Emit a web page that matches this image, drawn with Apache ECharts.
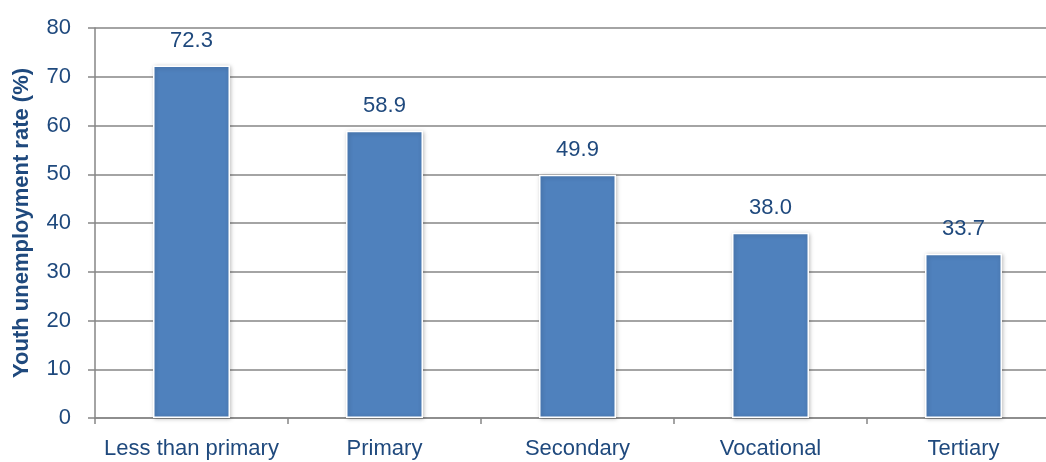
<!DOCTYPE html>
<html><head><meta charset="utf-8">
<script src="https://cdn.jsdelivr.net/npm/echarts@6/dist/echarts.min.js"></script>
<style>html,body{margin:0;padding:0;background:#fff}#c{width:1046px;height:462px}</style>
</head><body><div id="c"></div>
<script>
const categories = ["Less than primary", "Primary", "Secondary", "Vocational", "Tertiary"];
const values = [72.3, 58.9, 49.9, 38.0, 33.7];
const yAxisTitle = "Youth unemployment rate (%)";
const FONT = "'Liberation Sans Narrow', 'Arial Narrow', 'Liberation Sans', Arial, sans-serif";
const TXT = "#1F497D";
const chart = echarts.init(document.getElementById('c'));
chart.setOption({
  animation: false,
  grid: { left: 95, top: 28, right: -14, bottom: 44, containLabel: false, outerBoundsMode: 'none' },
  xAxis: {
    type: 'category', data: categories,
    axisLine: { lineStyle: { color: '#868686', width: 1.5 } },
    axisTick: { show: true, length: 6, lineStyle: { color: '#868686', width: 1.5 } },
    axisLabel: { interval: 0, color: TXT, fontFamily: FONT, fontSize: 22, margin: 20 }
  },
  yAxis: {
    type: 'value', min: 0, max: 80, interval: 10,
    name: yAxisTitle, nameLocation: 'middle', nameGap: 62,
    nameTextStyle: { color: TXT, fontFamily: FONT, fontSize: 22, fontWeight: 'bold' },
    axisLine: { show: true, lineStyle: { color: '#868686', width: 1.5 } },
    axisTick: { show: true, length: 7, lineStyle: { color: '#868686', width: 1.5 } },
    axisLabel: { color: TXT, fontFamily: FONT, fontSize: 22, margin: 24 },
    splitLine: { lineStyle: { color: '#868686', width: 1.5 } }
  },
  series: [{
    type: 'bar', data: values, barWidth: 77,
    itemStyle: { color: '#4F81BD', borderColor: '#ffffff', borderWidth: 1.5,
      shadowColor: 'rgba(0,0,0,0.25)', shadowBlur: 4, shadowOffsetX: 1, shadowOffsetY: 1 },
    label: { show: true, position: 'top', distance: 14, color: TXT, fontFamily: FONT, fontSize: 22,
      formatter: p => p.value.toFixed(1) }
  }]
});
</script></body></html>
